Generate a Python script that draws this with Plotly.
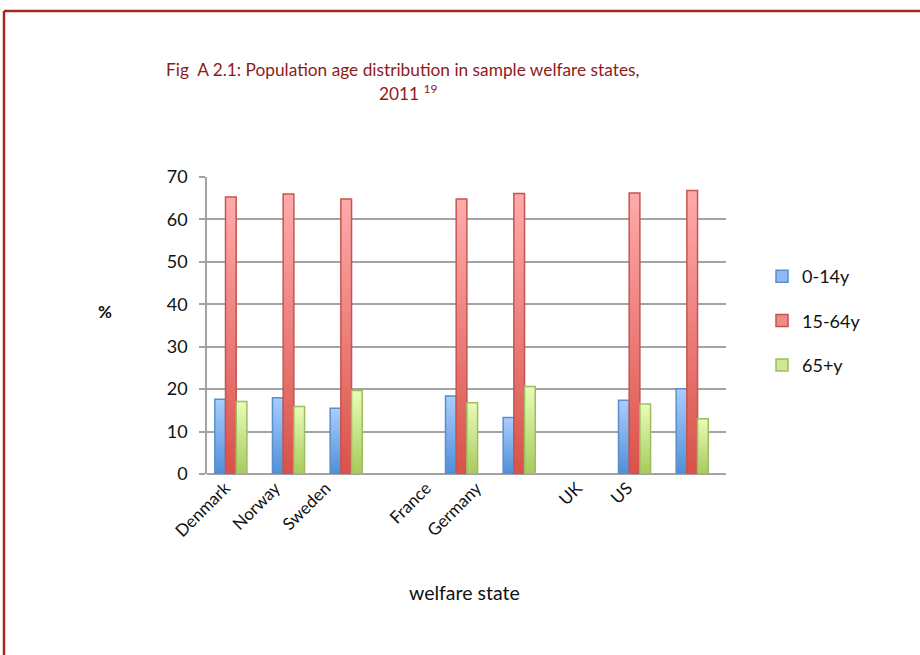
import plotly.graph_objects as go

# Population share by age band, 2011 (blank entries separate the country groups)
categories = ["Denmark", "Norway", "Sweden", "", "France", "Germany", "", "UK", "US"]
age_0_14 = [17.6, 18.0, 15.5, None, 18.4, 13.3, None, 17.4, 20.1]
age_15_64 = [65.3, 66.0, 64.8, None, 64.8, 66.1, None, 66.2, 66.8]
age_65_plus = [17.1, 15.9, 19.7, None, 16.8, 20.6, None, 16.5, 13.0]
series_names = ["0-14y", "15-64y", "65+y"]

# (gradient bottom, gradient top, outline) for each series
palettes = [
    ("#4f8fd8", "#aacdfd", "#5b8fc9"),
    ("#d9514a", "#ffabab", "#c45650"),
    ("#a7ca5c", "#e8fdb8", "#9dbd5f"),
]
legend_fill = ["#8fbaf0", "#f08c88", "#cfe896"]

FONT = "Lato"
W, H = 920, 655
L, R, T, B = 207, 726, 177, 474          # plot area in pixels
BAR_W = 0.1855                            # width of one bar in category units
X_MIN, X_MAX = -0.4136, 8.586             # bar axis range
LBL_MIN, LBL_MAX = -0.358, 9.960          # label axis range (labels packed tighter)
Y_MAX = 70


def px_x(p):
    return (p - L) / (R - L)


def px_y(p):
    return (B - p) / (B - T)


fig = go.Figure()

series_values = [age_0_14, age_15_64, age_65_plus]
for k, (name, values, (c_bot, c_top, c_line)) in enumerate(zip(series_names, series_values, palettes)):
    offset = (k - 1) * BAR_W
    for i, v in enumerate(values):
        if v is None:
            continue
        x0 = i + offset - BAR_W / 2
        x1 = i + offset + BAR_W / 2
        fig.add_trace(go.Scatter(
            x=[x0, x0, x1, x1, x0],
            y=[0, v, v, 0, 0],
            mode="lines",
            fill="toself",
            fillgradient=dict(type="vertical", colorscale=[[0, c_bot], [1, c_top]], start=0, stop=v),
            line=dict(color=c_line, width=1.5),
            hoverinfo="text",
            text=f"{categories[i]} {name}: {v}",
            showlegend=False,
        ))
    # legend entry for the series (lives on the label axis, holds no data)
    fig.add_trace(go.Bar(
        x=[None], y=[None], name=name, legendgroup=name, xaxis="x2",
        marker=dict(color=legend_fill[k], line=dict(color=c_line, width=1.5)),
    ))

tick_pos = [i for i, c in enumerate(categories) if c]
tick_txt = [c for c in categories if c]

grid = "#a3a3a3"
ink = "#111111"
fig.update_layout(
    width=W, height=H,
    margin=dict(l=L, r=W - R, t=T, b=H - B),
    paper_bgcolor="white", plot_bgcolor="white",
    font=dict(family=FONT, size=16, color=ink),
    showlegend=True,
    legend=dict(
        x=px_x(762), y=px_y(258), xanchor="left", yanchor="top",
        font=dict(family=FONT, size=18, color=ink),
        tracegroupgap=18, itemwidth=30, bgcolor="rgba(0,0,0,0)",
    ),
    xaxis=dict(
        range=[X_MIN, X_MAX], showticklabels=False, ticks="",
        showgrid=False, zeroline=False, showline=False, fixedrange=True,
    ),
    xaxis2=dict(
        range=[LBL_MIN, LBL_MAX], overlaying="x", anchor="y", side="bottom",
        tickvals=tick_pos, ticktext=tick_txt, tickangle=-45,
        showgrid=False, zeroline=False, showline=False, ticks="",
        tickfont=dict(family=FONT, size=17, color=ink), fixedrange=True,
    ),
    yaxis=dict(
        range=[0, Y_MAX], dtick=10, showgrid=True, gridcolor=grid, gridwidth=1.5,
        zeroline=True, zerolinecolor=grid, zerolinewidth=1.5,
        showline=True, linecolor=grid, linewidth=1.5,
        ticks="outside", ticklen=6, tickcolor=grid, tickwidth=1.5,
        tickfont=dict(family=FONT, size=18, color=ink),
        ticklabelstandoff=8,
        fixedrange=True,
    ),
)

title_color = "#8e1b1b"
fig.add_annotation(
    text="Fig  A 2.1: Population age distribution in sample welfare states,",
    xref="paper", yref="paper", x=px_x(403), y=px_y(70), showarrow=False,
    font=dict(family=FONT, size=17.3, color=title_color), xanchor="center", yanchor="middle",
)
fig.add_annotation(
    text="2011 <sup>19</sup>",
    xref="paper", yref="paper", x=px_x(408), y=px_y(93), showarrow=False,
    font=dict(family=FONT, size=17.3, color=title_color), xanchor="center", yanchor="middle",
)
fig.add_annotation(
    text="<b>%</b>", xref="paper", yref="paper", x=px_x(96), y=px_y(311),
    showarrow=False, font=dict(family=FONT, size=17, color=ink),
)
fig.add_annotation(
    text="welfare state", xref="paper", yref="paper", x=px_x(464), y=px_y(606),
    showarrow=False, font=dict(family=FONT, size=19.5, color=ink),
)

# frame around the figure
frame = "#a3281f"
fig.add_shape(type="line", xref="paper", yref="paper",
              x0=px_x(4), x1=px_x(W + 2), y0=px_y(11), y1=px_y(11),
              line=dict(color=frame, width=2.5))
fig.add_shape(type="line", xref="paper", yref="paper",
              x0=px_x(4), x1=px_x(4), y0=px_y(11), y1=px_y(H + 2),
              line=dict(color=frame, width=2.5))

fig.write_html("out.html")
